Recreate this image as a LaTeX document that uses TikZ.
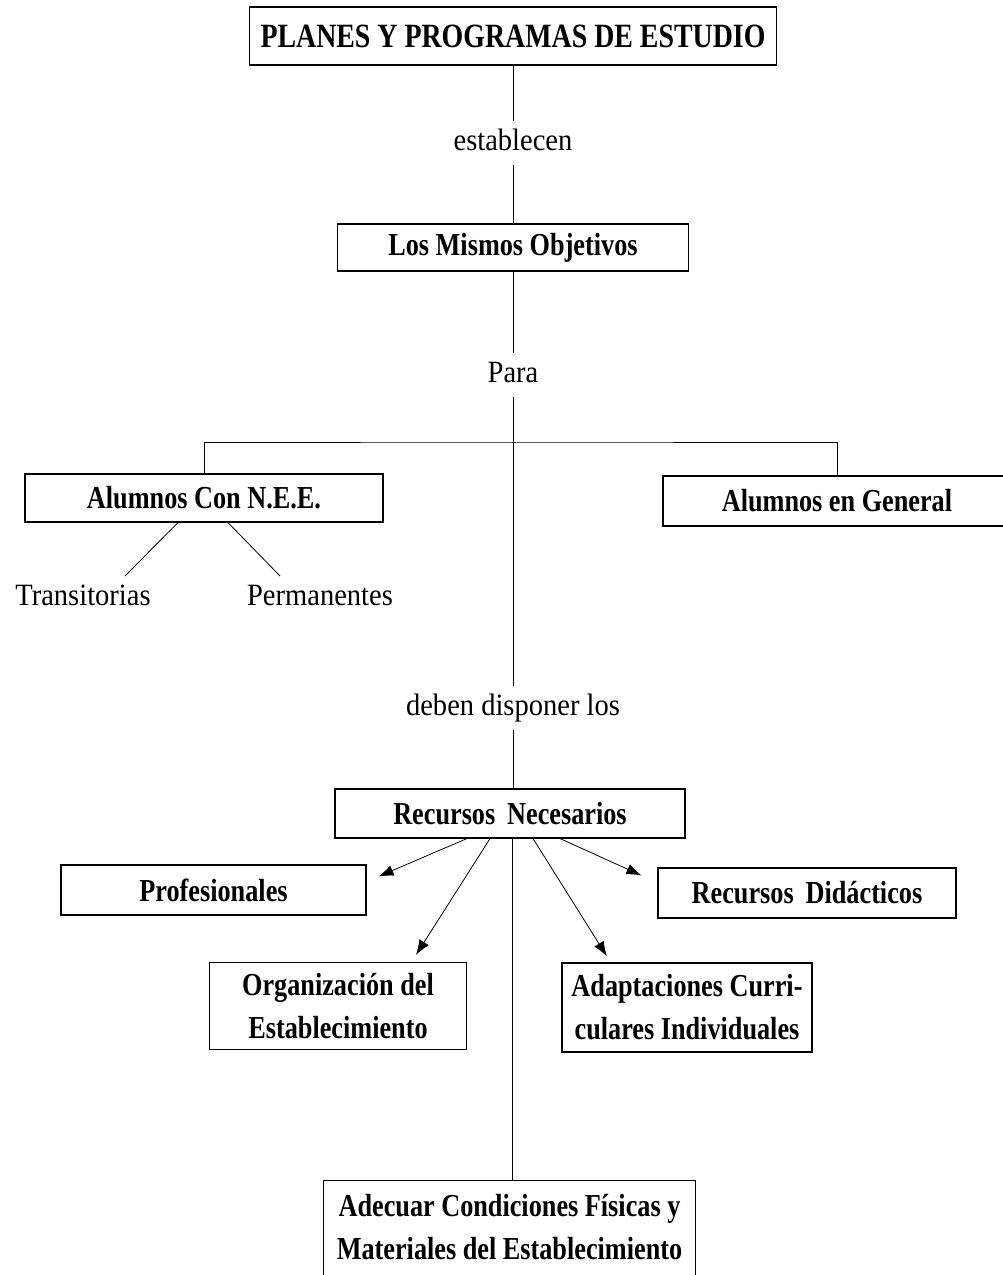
\documentclass[tikz,border=0pt]{standalone}
\usepackage{fontspec}
\setmainfont{Liberation Serif}
\newfontfamily\negrita[FakeStretch=0.82]{Liberation Serif}
\newfontfamily\delgada[FakeStretch=0.92]{Liberation Serif}
\usetikzlibrary{arrows.meta}

\tikzset{
  caja/.style={draw, line width=1.1pt, inner sep=0pt, align=center, font=\negrita\bfseries\fontsize{32}{43}\selectfont},
  rotulo/.style={inner sep=0pt, outer ysep=8pt, text height=21pt, text depth=7pt, font=\delgada\fontsize{31}{36}\selectfont},
  flecha/.style={-{Latex[length=15pt,width=11pt]}}
}

\begin{document}
\begin{tikzpicture}[x=1pt, y=-1pt, line width=0.8pt]
	\useasboundingbox (0,0) rectangle (1003,1275);
	\node [caja, minimum width=527pt, minimum height=58pt, font=\negrita\bfseries\fontsize{34}{40}\selectfont] (planes) at (513,36) {PLANES Y PROGRAMAS DE ESTUDIO};
	\node [rotulo, anchor=base] (establecen) at (513,150) {establecen};
	\node [caja, minimum width=351pt, minimum height=47pt] (objetivos) at (513,247.5) {Los Mismos Objetivos};
	\node [rotulo, anchor=base] (para) at (513,382) {Para};
	\coordinate (rama) at (513,442);
	\node [caja, minimum width=358pt, minimum height=48pt] (nee) at (204,498) {Alumnos Con N.E.E.};
	\node [caja, minimum width=348pt, minimum height=50pt] (general) at (837,501) {Alumnos en General};
	\node [rotulo, anchor=base] (transitorias) at (83,605) {Transitorias};
	\node [rotulo, anchor=base] (permanentes) at (320,605) {Permanentes};
	\node [rotulo, anchor=base] (deben) at (513,715) {deben disponer los};
	\node [caja, minimum width=350pt, minimum height=49pt] (recursos) at (510,813.5) {Recursos\, Necesarios};
	\node [caja, minimum width=305pt, minimum height=50pt] (profesionales) at (213.5,890) {Profesionales};
	\node [caja, minimum width=298pt, minimum height=50pt] (didacticos) at (807,893) {Recursos\, Didácticos};
	\node [caja, minimum width=257pt, minimum height=87pt] (organizacion) at (338,1006) {Organización del\\Establecimiento};
	\node [caja, minimum width=250pt, minimum height=89pt] (adaptaciones) at (687,1007.5) {Adaptaciones Curri-\\culares Individuales};
	\node [caja, draw=none, minimum width=371pt, minimum height=92pt] (adecuar) at (509.5,1227) {Adecuar Condiciones Físicas y\\Materiales del Establecimiento};
	\draw [line width=1.1pt] ([yshift=-10pt]adecuar.south west) -- (adecuar.north west) -- (adecuar.north east) -- ([yshift=-10pt]adecuar.south east);
	\draw (planes) -- (establecen) -- (objetivos) -- (para) -- (deben);
	\draw (deben) -- (deben |- recursos.north);
	\draw (nee.north) |- (rama) -| (general.north);
	\draw ([xshift=-26pt]nee.south) -- ([xshift=42pt]transitorias.north);
	\draw ([xshift=24pt]nee.south) -- ([xshift=-40pt]permanentes.north);
	\draw ([xshift=2pt]recursos.south) -- ([xshift=2pt]recursos.south |- adecuar.north);
	\draw [flecha] ([xshift=-43pt]recursos.south) -- ([xshift=12pt,yshift=-12pt]profesionales.north east);
	\draw [flecha] ([xshift=-20pt]recursos.south) -- ([xshift=78pt,yshift=7pt]organizacion.north);
	\draw [flecha] ([xshift=23pt]recursos.south) -- ([xshift=-80pt,yshift=6pt]adaptaciones.north);
	\draw [flecha] ([xshift=50pt]recursos.south) -- ([xshift=-16pt,yshift=-8pt]didacticos.north west);
\end{tikzpicture}
\end{document}
